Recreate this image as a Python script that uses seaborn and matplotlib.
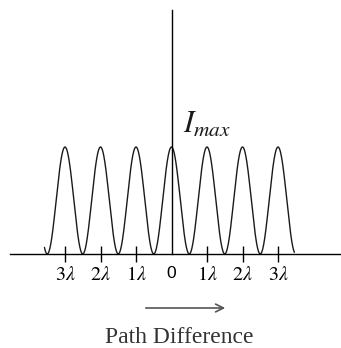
import numpy as np
import pandas as pd
import seaborn as sns
import matplotlib
matplotlib.use("Agg")
import matplotlib.pyplot as plt

# path difference in units of lambda, labelled positions
orders = [-3, -2, -1, 0, 1, 2, 3]
order_labels = [r"$3\lambda$", r"$2\lambda$", r"$1\lambda$", "0", r"$1\lambda$", r"$2\lambda$", r"$3\lambda$"]
i_max = 1.0
# curve drawn from just left of -3.5 lambda to just before +3.5 lambda
curve_start = -3.58
curve_end = 3.46

sns.set_style("white")
plt.rcParams["mathtext.fontset"] = "stix"
plt.rcParams["font.family"] = ["Liberation Serif", "DejaVu Serif"]

# intensity of the two-source pattern, I = Imax cos^2(pi d / lambda)
d = np.linspace(curve_start, curve_end, 800)
df = pd.DataFrame({"path_diff": d, "intensity": i_max * np.cos(np.pi * d) ** 2})

fig = plt.figure(figsize=(3.41, 3.48), dpi=100)
ax = fig.add_axes([0, 0, 1, 1])

sns.lineplot(data=df, x="path_diff", y="intensity", color="#1a1a1a", linewidth=1.0, ax=ax)

px = 35.5   # pixels per lambda
py = 107.0  # pixels per Imax
ax.set_xlim(-171.5 / px, (341 - 171.5) / px)
ax.set_ylim(-94 / py, 254 / py)

# axes through the origin
for side in ["top", "right"]:
    ax.spines[side].set_visible(False)
ax.spines["bottom"].set_position(("data", 0))
ax.spines["left"].set_position(("data", 0))
ax.spines["bottom"].set_bounds(-161.5 / px, 170 / px)
ax.spines["left"].set_bounds(0, 244 / py)
for side in ["bottom", "left"]:
    ax.spines[side].set_color("black")
    ax.spines[side].set_linewidth(1.0)

ax.set_yticks([])
ax.set_xticks(orders)
ax.set_xticklabels(order_labels)
ax.tick_params(axis="x", bottom=True, direction="inout", length=11.5, width=1.0, pad=3,
               labelsize=14.5, colors="black")
ax.xaxis.get_major_ticks()[orders.index(0)].tick1line.set_visible(False)
for lab in ax.get_xticklabels():
    if lab.get_text() == "0":
        lab.set_fontfamily(["Liberation Sans", "DejaVu Sans"])
        lab.set_fontsize(12.5)
ax.set_xlabel("")
ax.set_ylabel("")

ax.text(183 / 341, 1 - 133 / 348, r"$I_{max}$", transform=fig.transFigure,
        fontsize=22, ha="left", va="baseline", color="#1a1a1a")

ax.annotate("", xy=(228 / 341, 1 - 308 / 348), xytext=(143 / 341, 1 - 308 / 348),
            xycoords="figure fraction", textcoords="figure fraction",
            arrowprops=dict(arrowstyle="->", color="#555555", lw=1.2,
                            mutation_scale=14))

fig.text(179 / 341, 5 / 348, "Path Difference", fontsize=17, ha="center",
         va="baseline", color="#333333")

fig.savefig("out.png", dpi=100)
